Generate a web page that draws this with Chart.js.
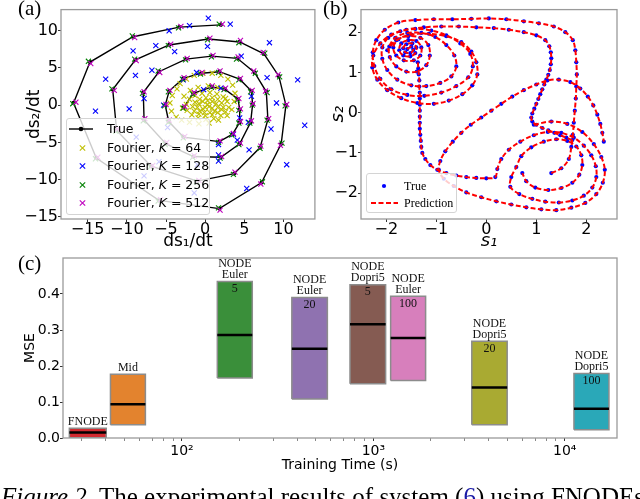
<!DOCTYPE html>
<html><head><meta charset="utf-8">
<script src="https://cdn.jsdelivr.net/npm/chart.js@4.4.1/dist/chart.umd.min.js"></script>
<style>
html,body{margin:0;padding:0;width:640px;height:499px;overflow:hidden;background:#fff;}
canvas{position:absolute;}
.plbl{position:absolute;font-family:'Liberation Serif','Times New Roman',serif;font-size:21px;line-height:21px;color:#000;}
.leg{position:absolute;background:rgba(255,255,255,0.8);border:1px solid #d4d4d4;border-radius:3px;box-sizing:border-box;}
.row{position:absolute;left:0;height:18px;line-height:18px;white-space:nowrap;}
.row svg{position:absolute;left:0;top:0;}
.row span{position:absolute;}
#cap{position:absolute;left:1px;top:484px;font-family:'Liberation Serif','Times New Roman',serif;font-size:25px;line-height:25px;white-space:nowrap;color:#000;}
</style></head><body>
<canvas id="ca" width="320" height="252" style="left:0;top:0;width:320px;height:252px"></canvas>
<canvas id="cb" width="320" height="252" style="left:320px;top:0;width:320px;height:252px"></canvas>
<canvas id="cc" width="640" height="232" style="left:0;top:245px;width:640px;height:232px"></canvas>
<div class="plbl" style="left:18px;top:-2px">(a)</div>
<div class="plbl" style="left:323px;top:-2px">(b)</div>
<div class="plbl" style="left:18px;top:253px">(c)</div>
<div id="legA" class="leg" style="left:66px;top:118px;width:144px;height:97px;font-family:'DejaVu Sans';font-size:12.5px;"></div>
<div id="legB" class="leg" style="left:366px;top:173px;width:91px;height:40px;font-family:'Liberation Serif';font-size:12px;"></div>
<div id="cap"><i>Figure 2.</i> The experimental results of system (<span style="color:#1a1aa6">6</span>) using FNODEs</div>
<script>
// ---------------- Panel (a) data ----------------
const aTicksX = [-15, -10, -5, 0, 5, 10];
const aTicksY = [-15, -10, -5, 0, 5, 10];
const aSeriesNames = ['True', 'Fourier, K = 64', 'Fourier, K = 128', 'Fourier, K = 256', 'Fourier, K = 512'];
const trueA = [[2.0,10.8],[-3.3,10.5],[-9.2,9.2],[-14.7,5.8],[-16.8,0.3],[-13.9,-7.1],[-5.9,-12.8],[1.8,-13.9],[7.2,-10.4],[9.7,-5.2],[10.3,0.0],[9.4,3.9],[7.5,6.9],[4.4,8.5],[0.4,8.9],[-4.6,8.1],[-8.9,6.1],[-11.8,2.1],[-11.3,-3.4],[-6.9,-8.2],[-1.0,-10.2],[3.7,-9.2],[7.0,-5.7],[8.0,-1.9],[7.8,1.8],[6.3,4.4],[4.1,6.3],[0.85,6.6],[-2.45,6.2],[-5.9,4.5],[-7.9,1.7],[-7.8,-2.0],[-5.0,-5.2],[-1.5,-6.9],[2.0,-7.0],[4.4,-5.2],[5.8,-2.3],[6.05,0.1],[5.9,1.9],[4.4,3.5],[1.8,4.5],[-0.5,4.3],[-2.8,3.6],[-4.6,1.9],[-5.1,0.0],[-4.65,-2.2],[-2.75,-4.3],[1.8,-4.9],[3.5,-3.9],[4.4,-2.3],[4.4,-0.6],[4.2,0.8],[2.5,2.15],[0.85,2.45],[-1.5,1.6],[-2.75,-0.3]];
const k512A = [[2.2,10.9],[-3.1,10.6],[-9.0,9.1],[-14.6,5.6],[-16.5,0.4],[-13.7,-7.0],[-5.7,-12.7],[1.9,-14.1],[7.1,-10.6],[9.6,-5.4],[10.4,0.1],[9.3,4.1],[7.4,7.1],[4.5,8.7],[0.6,9.0],[-4.4,8.2],[-8.8,6.0],[-11.6,2.0],[-11.2,-3.2],[-6.7,-8.1],[-0.8,-10.1],[3.8,-9.0],[7.1,-5.5],[8.1,-1.8],[7.7,1.9],[6.2,4.6],[4.2,6.5],[1.0,6.7],[-2.3,6.3],[-5.8,4.4],[-7.8,1.8],[-7.7,-1.8],[-4.9,-5.0],[-1.4,-6.8],[2.1,-6.9],[4.5,-5.1],[5.9,-2.1],[6.1,0.2],[6.0,2.0],[4.5,3.6],[1.9,4.6],[-0.4,4.4],[-2.7,3.7],[-4.5,2.0],[-5.0,0.1],[-4.6,-2.0],[-2.6,-4.2],[1.9,-4.8],[3.6,-3.8],[4.5,-2.2],[4.5,-0.5],[4.3,0.9],[2.6,2.3],[0.9,2.6],[-1.4,1.7],[-2.6,-0.2]];
const k256A = [[1.8,10.9],[-3.4,10.4],[-9.3,9.3],[-14.9,5.9],[-16.9,0.2],[-14.0,-7.2],[-6.0,-12.9],[1.7,-13.8],[7.3,-10.3],[9.8,-5.1],[10.2,-0.1],[9.5,3.8],[7.6,7.0],[4.3,8.4],[0.3,8.8],[-4.7,8.0],[-9.0,6.2],[-11.9,2.2],[-11.4,-3.5],[-7.0,-8.3],[-1.1,-10.3],[3.6,-9.3],[7.0,-5.8],[7.9,-2.0],[7.9,1.7],[6.4,4.3],[4.0,6.2],[0.8,6.5],[-2.5,6.1],[-6.0,4.6],[-8.0,1.6],[-7.9,-2.1],[-5.1,-5.3],[-1.6,-7.0],[1.9,-7.1],[4.3,-5.3],[5.7,-2.4],[6.0,0.0],[5.8,1.8],[4.3,3.4],[1.7,4.4],[-0.6,4.2],[-2.9,3.5],[-4.7,1.8],[-5.2,-0.1],[-4.7,-2.3],[-2.8,-4.4],[1.7,-5.0],[3.4,-4.0],[4.3,-2.4],[4.3,-0.7],[4.1,0.7],[2.4,2.1],[0.8,2.4],[-1.6,1.5],[-2.8,-0.4]];
const k128A = [[0.4,11.7],[3.2,10.9],[-2.0,10.7],[-4.6,10.0],[8.2,8.4],[-6.3,8.0],[-9.2,7.3],[0.3,7.9],[-3.9,7.2],[4.6,6.6],[-12.7,3.5],[-8.9,4.0],[-6.8,4.7],[7.9,3.7],[11.8,3.4],[9.1,0.3],[12.7,-2.7],[8.4,-3.2],[-14.0,-0.8],[-9.7,-0.5],[-5.3,0.0],[5.6,-6.0],[10.4,-8.0],[5.3,-11.2],[-1.4,-11.8],[1.7,-6.7],[1.7,-7.5],[1.7,-5.3],[3.6,-3.9],[4.1,-4.7],[5.5,-2.3],[4.4,-1.7],[-7.8,0.9],[-8.8,-4.3],[-7.8,-9.5],[-1.0,-8.0],[-5.9,-7.6],[-0.2,2.1],[2.0,2.3],[-2.8,3.4],[-1.1,4.4],[5.9,1.2],[-4.8,-3.0]];
const k64A = [[-4.5,0.3],[-4.2,1.3],[-3.6,2.2],[-3.2,2.9],[-2.4,3.5],[-1.4,4.0],[-0.3,4.3],[0.9,4.3],[2.0,4.0],[2.9,3.5],[3.5,2.7],[3.8,1.6],[3.7,0.5],[-4.3,-0.8],[-3.7,-1.6],[-3.0,-2.0],[-2.0,-2.3],[-0.8,-2.5],[0.5,-2.4],[1.7,-2.0],[2.8,-1.4],[3.4,-0.6],[3.0,-0.3],[2.8,0.5],[2.3,1.1],[1.5,1.5],[0.6,1.7],[-0.4,1.6],[-1.3,1.3],[-2.0,0.8],[-2.4,0.1],[-2.3,-0.7],[-1.7,-1.3],[-0.9,-1.7],[0.1,-1.9],[1.1,-1.8],[2.0,-1.4],[2.6,-0.9],[2.3,-0.3],[2.1,0.3],[1.6,0.8],[0.9,1.0],[0.1,1.0],[-0.7,0.8],[-1.3,0.4],[-1.6,-0.2],[-1.4,-0.8],[-0.8,-1.2],[0.0,-1.4],[0.9,-1.3],[1.6,-1.0],[2.1,-0.6],[1.6,-0.3],[1.4,0.2],[0.9,0.5],[0.3,0.6],[-0.3,0.5],[-0.8,0.2],[-1.0,-0.3],[-0.7,-0.8],[-0.1,-1.0],[0.6,-1.0],[1.2,-0.8],[0.5,-0.2],[0.0,-0.3],[0.9,-0.4],[0.3,0.1],[-0.3,-0.5],[2.6,0.9],[-2.7,1.2],[-1.9,2.0],[-0.9,2.4],[0.4,2.6],[1.6,2.4],[-2.9,-0.4]];

// ---------------- Panel (b) data (null = break between traced pieces) ----------------
const bTicks = [-2, -1, 0, 1, 2];
const trajB = [
[-1.58,1.58],[-1.5,1.64],[-1.46,1.56],[-1.52,1.48],[-1.62,1.5],[-1.66,1.6],[-1.6,1.7],[-1.48,1.72],[-1.4,1.62],[-1.42,1.48],[-1.52,1.4],[-1.66,1.42],[-1.74,1.55],[-1.7,1.72],[-1.56,1.8],[-1.4,1.78],[-1.3,1.62],[-1.32,1.42],[-1.45,1.3],[-1.65,1.3],[-1.8,1.42],[-1.86,1.62],[-1.76,1.82],[-1.56,1.9],[-1.32,1.86],[-1.16,1.68],[-1.13,1.42],[-1.2,1.18],[-1.39,1.02],[-1.6,1.02],[-1.8,1.15],[-1.93,1.38],[-1.94,1.64],[-1.82,1.86],[-1.58,1.98],[-1.3,1.98],[-1.02,1.88],[-0.8,1.68],[-0.64,1.42],[-0.6,1.15],[-0.7,0.9],[-0.92,0.74],[-1.2,0.66],[-1.5,0.68],[-1.78,0.82],[-1.98,1.06],[-2.08,1.34],[-2.08,1.62],[-1.96,1.86],[-1.72,2.02],[-1.42,2.08],[-1.1,2.04],[-0.8,1.92],[-0.52,1.72],[-0.32,1.46],[-0.27,1.15],[-0.36,0.88],[-0.6,0.66],[-0.9,0.5],[-1.24,0.42],[-1.58,0.44],[-1.9,0.58],[-2.12,0.84],[-2.24,1.16],[-2.27,1.5],[-2.2,1.8],[-2.03,2.06],[-1.76,2.24],[-1.42,2.3],[-1.05,2.32],[-0.68,2.32],[-0.3,2.33],[0.05,2.34],[0.4,2.32],[0.75,2.27],[1.05,2.22],[1.35,2.14],[1.58,2.0],[1.73,1.8],[1.78,1.55],[1.8,1.25],[1.81,0.95],[1.8,0.65],[1.79,0.35],[1.77,0.05],[1.75,-0.25],[1.73,-0.55],[1.7,-0.85],[1.65,-1.15],[1.5,-1.38],[1.3,-1.5],
null,
[1.72,-0.68],[1.6,-0.62],[1.48,-0.56],[1.36,-0.5],[1.24,-0.44],[1.12,-0.38],[1.0,-0.3],[0.92,-0.22],[0.9,-0.12],[0.92,-0.02],[0.96,0.1],[1.0,0.22],[1.04,0.34],[1.08,0.46],[1.12,0.58],[1.16,0.7],[1.2,0.82],[1.24,0.94],[1.27,1.06],[1.29,1.2],[1.3,1.35],[1.29,1.5],[1.26,1.65],[1.18,1.8],[1.0,1.92],[0.75,2.0],[0.45,2.06],[0.15,2.1],[-0.2,2.12],[-0.55,2.14],[-0.9,2.14],[-1.25,2.12],[-1.6,2.06],[-1.9,1.94],[-2.12,1.72],[-2.26,1.42],[-2.28,1.12],[-2.18,0.82],[-1.98,0.56],[-1.7,0.36],[-1.38,0.24],[-1.05,0.22],[-0.75,0.3],[-0.48,0.46],[-0.28,0.68],[-0.18,0.95],[-0.2,1.25],[-0.3,1.52],[-0.5,1.75],[-0.8,1.9],[-1.15,1.96],[-1.5,1.94],[-1.8,1.8],[-1.98,1.55],
null,
[-1.37,1.25],[-1.36,1.1],[-1.35,0.95],[-1.34,0.8],[-1.34,0.65],[-1.33,0.5],[-1.33,0.35],[-1.33,0.2],[-1.33,0.05],[-1.33,-0.1],[-1.33,-0.25],[-1.33,-0.4],[-1.32,-0.55],[-1.31,-0.7],[-1.3,-0.85],[-1.28,-1.0],[-1.22,-1.15],[-1.12,-1.3],[-0.98,-1.42],[-0.8,-1.5],[-0.6,-1.56],[-0.4,-1.6],[-0.2,-1.62],[0.0,-1.63],[0.18,-1.6],[0.22,-1.4],[0.3,-1.15],[0.45,-0.92],[0.68,-0.72],[0.95,-0.56],[1.23,-0.48],[1.5,-0.5],[1.75,-0.62],[1.95,-0.82],[2.1,-1.06],[2.19,-1.33],[2.2,-1.6],[2.12,-1.86],[1.95,-2.06],[1.72,-2.18],[1.45,-2.23],[1.18,-2.21],[0.92,-2.14],[0.66,-2.02],[0.48,-1.84],[0.5,-1.6],[0.6,-1.35],[0.7,-1.08],[0.9,-0.86],[1.15,-0.72],[1.4,-0.66],[1.62,-0.7],[1.8,-0.84],[1.9,-1.06],[1.92,-1.3],[1.86,-1.54],[1.72,-1.74],[1.5,-1.87],[1.24,-1.92],[0.98,-1.86],[0.8,-1.7],[0.72,-1.5],
null,
[0.95,-0.3],[1.3,-0.22],[1.62,-0.28],[1.92,-0.48],[2.15,-0.78],[2.3,-1.1],[2.37,-1.42],[2.33,-1.74],[2.2,-2.02],[1.98,-2.24],[1.7,-2.36],[1.4,-2.42],[1.1,-2.4],[0.8,-2.35],[0.5,-2.28],[0.2,-2.2],[-0.1,-2.1],[-0.4,-1.98],[-0.65,-1.82],[-0.85,-1.64],[-0.95,-1.42],[-0.92,-1.2],[-0.82,-0.96],[-0.67,-0.72],[-0.5,-0.5],[-0.31,-0.3],[-0.1,-0.12],[0.1,0.05],[0.3,0.22],[0.52,0.4],[0.75,0.56],[1.0,0.7],[1.22,0.8],[1.45,0.82],[1.68,0.76],[1.88,0.6],[2.03,0.4],[2.14,0.18],[2.22,-0.05],[2.28,-0.28],[2.32,-0.5],[2.35,-0.72]
];

// ---------------- Panel (c) data ----------------
const cLabelAbove = [['FNODE'],['Mid'],['NODE','Euler'],['NODE','Euler'],['NODE','Dopri5'],['NODE','Euler'],['NODE','Dopri5'],['NODE','Dopri5']];
const cLabelInside = ['', '', '5', '20', '5', '100', '20', '100'];
const cTimeLo = [25.8, 42.3, 153, 375, 755, 1231, 3268, 11170];
const cTimeHi = [40.2, 64.4, 233, 575, 1159, 1875, 5003, 17020];
const cMseLo  = [0.001, 0.037, 0.167, 0.108, 0.151, 0.160, 0.037, 0.023];
const cMseHi  = [0.027, 0.177, 0.435, 0.390, 0.426, 0.394, 0.269, 0.179];
const cMseMed = [0.015, 0.094, 0.286, 0.248, 0.316, 0.278, 0.140, 0.081];
const cColors = ['#d22a30', '#e3832e', '#3a8f3a', '#8f72b0', '#855b52', '#d77fbc', '#a9aa32', '#2aa8b8'];
const cMajorTicks = [100, 1000, 10000];
const cMajorLabels = ['10²', '10³', '10⁴'];
const cMinorTicks = [30,40,50,60,70,80,90,200,300,400,500,600,700,800,900,2000,3000,4000,5000,6000,7000,8000,9000];
const cTicksY = [0, 0.1, 0.2, 0.3, 0.4];

// ---------------- helpers ----------------
Chart.defaults.font.family = "'DejaVu Sans', sans-serif";
Chart.defaults.color = '#000';
const framePlugin = {
  id: 'frame',
  afterDatasetsDraw(chart, args, opts) {
    const {ctx, chartArea: a} = chart;
    ctx.save();
    ctx.strokeStyle = opts.color || '#9a9a9a';
    ctx.lineWidth = opts.width || 1.3;
    ctx.strokeRect(a.left, a.top, a.right - a.left, a.bottom - a.top);
    ctx.restore();
  }
};
Chart.register(framePlugin);
const toXY = p => p ? {x: p[0], y: p[1]} : {x: null, y: null};
const fmtMinus = v => (v < 0 ? '\u2212' + Math.abs(v) : String(v));
function setTicks(list) { return s => { s.ticks = list.map(v => ({value: v})); }; }
const tickGrid = {drawOnChartArea: false, drawTicks: true, tickLength: 3, color: '#333', lineWidth: 1};

// ---------------- Chart (a) ----------------
const aColors = ['#000000', '#bfbf00', '#0000ff', '#008000', '#bf00bf'];
const aData = [trueA, k64A, k128A, k256A, k512A];
new Chart(document.getElementById('ca'), {
  type: 'scatter',
  data: {datasets: aData.map((d, i) => i === 0 ? {
      label: aSeriesNames[i], data: d.map(toXY), showLine: true, borderColor: aColors[i], borderWidth: 1.4,
      pointRadius: 2.1, pointBackgroundColor: aColors[i], pointBorderWidth: 0, order: 5
    } : {
      label: aSeriesNames[i], data: d.map(toXY), pointStyle: 'crossRot', pointRadius: 3.6,
      borderColor: aColors[i], backgroundColor: aColors[i], borderWidth: 1.1, order: 5 - i
    })},
  options: {
    responsive: false, animation: false, events: [],
    layout: {padding: {left: 0, right: 3, top: 3, bottom: 0}},
    plugins: {legend: {display: false}, tooltip: {enabled: false}, frame: {color: '#9a9a9a', width: 1.3}},
    scales: {
      x: {type: 'linear', min: -18.4, max: 14.0, afterBuildTicks: setTicks(aTicksX), afterFit: s => { s.height = 33; },
          grid: tickGrid, border: {display: false},
          ticks: {font: {size: 16}, padding: -2, maxRotation: 0, autoSkip: false, callback: fmtMinus},
          title: {display: true, text: 'ds\u2081/dt', font: {size: 17}, padding: {top: 0, bottom: 0}}},
      y: {type: 'linear', min: -15.3, max: 12.85, afterBuildTicks: setTicks(aTicksY), afterFit: s => { s.width = 61; },
          grid: tickGrid, border: {display: false},
          ticks: {font: {size: 16}, padding: 0, autoSkip: false, callback: fmtMinus},
          title: {display: true, text: 'ds\u2082/dt', font: {size: 17}, padding: {top: 24, bottom: 0}}}
    }
  }
});

// legend (a)
(function () {
  const box = document.getElementById('legA');
  const centers = [10.3, 29, 47.3, 65.6, 84];
  aSeriesNames.forEach((name, i) => {
    const row = document.createElement('div');
    row.className = 'row';
    row.style.top = (centers[i] - 9) + 'px';
    row.style.width = '140px';
    let svg;
    if (i === 0) {
      svg = '<svg width="34" height="18"><line x1="2" y1="9" x2="26" y2="9" stroke="#000" stroke-width="1.4"/><circle cx="14" cy="9" r="2.3" fill="#000"/></svg>';
    } else {
      const c = aColors[i], cx = 15.5, r = 2.7;
      svg = '<svg width="34" height="18"><line x1="' + (cx - r) + '" y1="' + (9 - r) + '" x2="' + (cx + r) + '" y2="' + (9 + r) + '" stroke="' + c + '" stroke-width="1.1"/><line x1="' + (cx - r) + '" y1="' + (9 + r) + '" x2="' + (cx + r) + '" y2="' + (9 - r) + '" stroke="' + c + '" stroke-width="1.1"/></svg>';
    }
    let txt = name;
    if (i > 0) {
      const parts = name.split('K');
      txt = parts[0] + '<i>K</i>' + parts[1];
    }
    row.innerHTML = svg + '<span style="left:40px;top:0">' + txt + '</span>';
    box.appendChild(row);
  });
})();

// ---------------- Chart (b) ----------------
new Chart(document.getElementById('cb'), {
  type: 'scatter',
  data: {datasets: [
    {label: 'True', data: trajB.map(toXY), showLine: false, pointRadius: 2.1, pointBackgroundColor: '#0000ff',
     pointBorderWidth: 0, borderColor: '#0000ff', order: 2},
    {label: 'Prediction', data: trajB.map(toXY), showLine: true, pointRadius: 0, borderColor: '#ff0000',
     borderWidth: 2, borderDash: [5, 2.5], tension: 0.35, spanGaps: false, order: 1}
  ]},
  options: {
    responsive: false, animation: false, events: [],
    layout: {padding: {left: 0, right: 23, top: 3, bottom: 0}},
    plugins: {legend: {display: false}, tooltip: {enabled: false}, frame: {color: '#9a9a9a', width: 1.3}},
    scales: {
      x: {type: 'linear', min: -2.506, max: 2.614, afterBuildTicks: setTicks(bTicks), afterFit: s => { s.height = 33; },
          grid: tickGrid, border: {display: false},
          ticks: {font: {size: 16}, padding: -2, maxRotation: 0, autoSkip: false, callback: fmtMinus},
          title: {display: true, text: 's\u2081', font: {size: 18, style: 'italic'}, padding: {top: 0, bottom: 0}}},
      y: {type: 'linear', min: -2.64, max: 2.56, afterBuildTicks: setTicks(bTicks), afterFit: s => { s.width = 41; },
          grid: tickGrid, border: {display: false},
          ticks: {font: {size: 16}, padding: 0, autoSkip: false, callback: fmtMinus},
          title: {display: true, text: 's\u2082', font: {size: 18, style: 'italic'}, padding: {top: 8, bottom: 0}}}
    }
  }
});
// legend (b)
(function () {
  const box = document.getElementById('legB');
  box.innerHTML =
    '<div class="row" style="top:3px;width:88px"><svg width="34" height="18"><circle cx="17" cy="9" r="2.1" fill="#0000ff"/></svg><span style="left:37px">True</span></div>' +
    '<div class="row" style="top:20px;width:88px"><svg width="34" height="18"><line x1="4" y1="9" x2="31" y2="9" stroke="#ff0000" stroke-width="2" stroke-dasharray="5,2.5"/></svg><span style="left:37px">Prediction</span></div>';
})();

// ---------------- Chart (c) ----------------
const cDatasets = [];
cTimeLo.forEach((lo, i) => {
  const hi = cTimeHi[i];
  cDatasets.push({
    data: [{x: lo, y: cMseLo[i]}, {x: lo, y: cMseHi[i]}, {x: hi, y: cMseHi[i]}, {x: hi, y: cMseLo[i]}, {x: lo, y: cMseLo[i]}],
    borderColor: '#8c8c8c', borderWidth: 1.5, backgroundColor: cColors[i], fill: 'shape',
    pointRadius: 0, tension: 0, order: 10
  });
  cDatasets.push({
    data: [{x: lo, y: cMseMed[i]}, {x: hi, y: cMseMed[i]}],
    borderColor: '#000', borderWidth: 2.5, pointRadius: 0, fill: false, order: 1
  });
});
const cLabelPlugin = {
  id: 'cLabels',
  afterDatasetsDraw(chart) {
    const {ctx, scales: {x, y}} = chart;
    ctx.save();
    ctx.font = "12px 'Liberation Serif'";
    ctx.fillStyle = '#111';
    ctx.textAlign = 'center';
    ctx.textBaseline = 'middle';
    cTimeLo.forEach((lo, i) => {
      const cx = (x.getPixelForValue(lo) + x.getPixelForValue(cTimeHi[i])) / 2;
      const ty = y.getPixelForValue(cMseHi[i]);
      const lines = cLabelAbove[i];
      lines.forEach((t, j) => ctx.fillText(t, cx, ty - 6.5 - (lines.length - 1 - j) * 11));
      if (cLabelInside[i]) ctx.fillText(cLabelInside[i], cx, ty + 7.5);
    });
    ctx.restore();
  }
};
const cAllTicks = cMajorTicks.concat(cMinorTicks).sort((a, b) => a - b);
new Chart(document.getElementById('cc'), {
  type: 'line',
  data: {datasets: cDatasets},
  options: {
    responsive: false, animation: false, events: [],
    layout: {padding: {left: 0, right: 23, top: 13, bottom: 0}},
    plugins: {legend: {display: false}, tooltip: {enabled: false}, frame: {color: '#9a9a9a', width: 1.3}},
    scales: {
      x: {type: 'logarithmic', min: 23.9, max: 18750, afterBuildTicks: setTicks(cAllTicks), afterFit: s => { s.height = 39; },
          grid: {drawOnChartArea: false, drawTicks: true, tickLength: 3,
                 color: c => (c.tick && cMajorTicks.includes(c.tick.value)) ? '#333' : '#888'},
          border: {display: false},
          ticks: {font: {size: 14}, padding: 1.6, maxRotation: 0, autoSkip: false,
                  callback: v => { const k = cMajorTicks.indexOf(v); return k >= 0 ? cMajorLabels[k] : ''; }},
          title: {display: true, text: 'Training Time (s)', font: {size: 14}, padding: {top: 0, bottom: 3.6}}},
      y: {type: 'linear', min: 0, max: 0.5, afterBuildTicks: setTicks(cTicksY), afterFit: s => { s.width = 63; },
          grid: tickGrid, border: {display: false},
          ticks: {font: {size: 14}, padding: 0, autoSkip: false, callback: v => v.toFixed(1)},
          title: {display: true, text: 'MSE', font: {size: 14}, padding: {top: 21.6, bottom: 0}}}
    }
  },
  plugins: [cLabelPlugin]
});
</script>
</body></html>
